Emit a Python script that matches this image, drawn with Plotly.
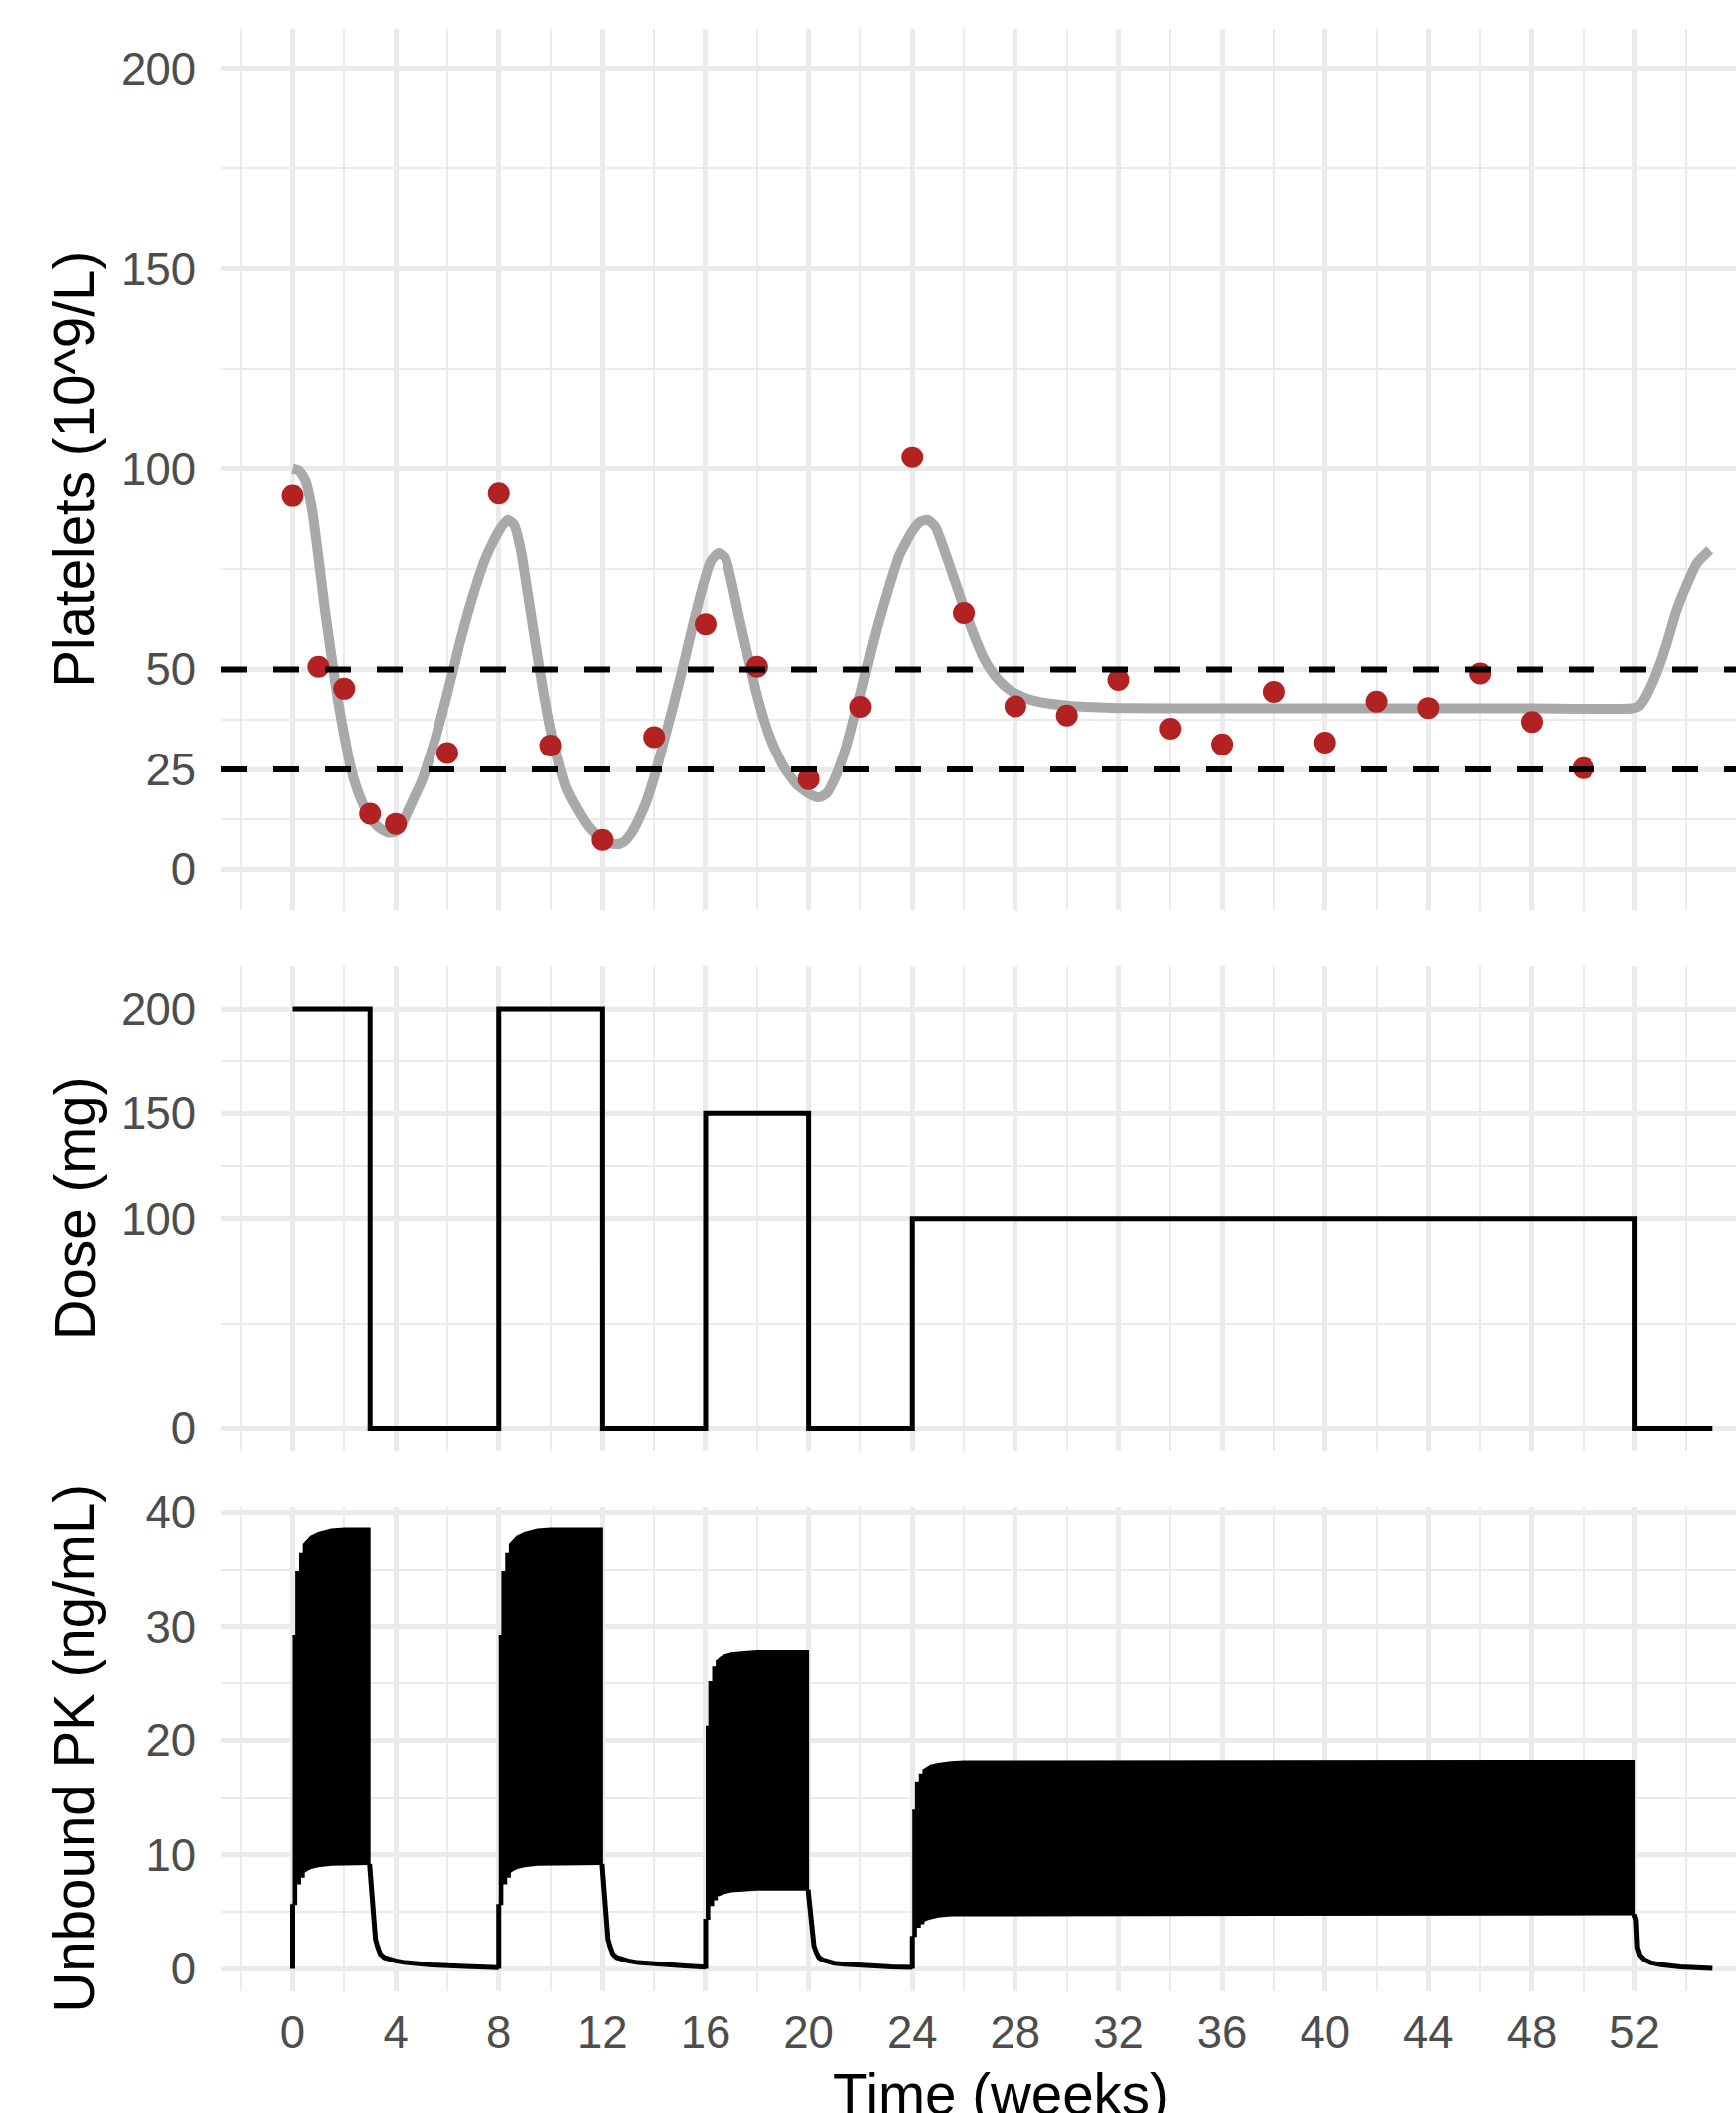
import plotly.graph_objects as go

# ---------------- data ----------------
# Platelet observations (weeks, 10^9/L)
obs_week = [0, 1, 2, 3, 4, 6, 8, 10, 12, 14, 16, 18, 20, 22, 24, 26, 28, 30, 32,
            34, 36, 38, 40, 42, 44, 46, 48, 50]
obs_platelets = [93.3, 50.7, 45.2, 13.9, 11.4, 29.1, 93.9, 31.0, 7.4, 33.1, 61.3,
                 50.7, 22.6, 40.7, 103.0, 64.1, 40.8, 38.5, 47.4, 35.2, 31.3, 44.4,
                 31.7, 42.0, 40.4, 49.0, 36.9, 25.3]

# Model-predicted platelets
model_week = [0, 0.25, 0.5, 0.75, 1.0, 1.25, 1.5, 1.75, 2.0, 2.25, 2.5, 2.75, 3.0,
              3.25, 3.5, 3.75, 4.0, 4.25, 4.5, 4.75, 5.0, 5.5, 6.0, 6.5, 7.0, 7.5,
              8.0, 8.35, 8.6, 8.85, 9.1, 9.4, 9.7, 10.0, 10.3, 10.6, 11.0, 11.5,
              12.0, 12.5, 12.8, 13.1, 13.4, 13.7, 14.0, 14.5, 15.0, 15.5, 15.9,
              16.2, 16.5, 16.75, 17.0, 17.3, 17.6, 18.0, 18.5, 19.0, 19.5, 20.0,
              20.4, 20.7, 21.0, 21.4, 22.0, 22.5, 23.0, 23.5, 24.0, 24.3, 24.6,
              24.9, 25.2, 25.6, 26.0, 26.4, 26.8, 27.2, 27.6, 28.0, 28.5, 29.0,
              30.0, 31.0, 32.0, 36.0, 40.0, 44.0, 48.0, 51.9, 52.15, 52.4, 52.7,
              53.0, 53.3, 53.6, 54.0, 54.4, 54.9]
model_platelets = [100, 99.5, 97, 90, 78, 65, 53.5, 42.5, 33.5, 25.5, 20, 16, 13,
                   11, 9.8, 9.2, 9.5, 11.5, 15, 18.5, 22, 32, 44, 57, 68.5, 78,
                   84.5, 87.3, 86, 80, 70, 57.5, 45.5, 35, 27, 20.5, 15.5, 10.5,
                   7.3, 6.3, 6.8, 8.9, 12.5, 17, 23, 35, 47.5, 61, 71,
                   77, 79, 78, 72, 63, 54.5, 43.5, 33, 26, 21.5, 19,
                   18, 19, 22.5, 29.5, 44, 57, 68.5, 78.5, 84.5, 86.8, 87.3,
                   85.5, 80.5, 73, 65.5, 58.5, 52.5, 48.5, 45.8, 44, 42.6, 41.8,
                   41, 40.6, 40.4, 40.3, 40.3, 40.3, 40.3, 40.3, 40.8, 43, 47,
                   52, 58, 64.5, 71, 76.5, 79.8]

threshold_levels = [25, 50]

# Dose schedule (step function)
dose_week = [0, 3, 8, 12, 16, 20, 24, 52, 55]
dose_mg = [200, 0, 200, 0, 150, 0, 100, 0, 0]

# Unbound PK: daily dosing blocks shown as peak/trough envelopes
pk_block_start = [0, 8, 16, 24]
pk_block_end = [2.98, 11.98, 19.98, 51.98]
pk_day_offset = [0, 0.14, 0.14, 0.29, 0.29, 0.43, 0.43, 0.57, 0.71, 1.0, 1.5, 2.0]
pk_peak_A = [29.2, 29.2, 34.8, 34.8, 36.4, 36.4, 37.2, 37.6, 37.9, 38.2, 38.5, 38.6, 38.6]
pk_trough_A = [5.7, 5.7, 7.5, 7.5, 8.1, 8.1, 8.5, 8.7, 8.85, 9.0, 9.15, 9.2, 9.2]
pk_peak_B = [29.2, 29.2, 34.8, 34.8, 36.4, 36.4, 37.2, 37.6, 37.9, 38.2, 38.5, 38.6, 38.6]
pk_trough_B = [5.7, 5.7, 7.5, 7.5, 8.1, 8.1, 8.5, 8.7, 8.85, 9.0, 9.15, 9.2, 9.2]
pk_peak_C = [21.2, 21.2, 25.1, 25.1, 26.4, 26.4, 27.0, 27.3, 27.5, 27.7, 27.8, 27.9, 27.9]
pk_trough_C = [4.4, 4.4, 5.6, 5.6, 6.1, 6.1, 6.4, 6.55, 6.65, 6.8, 6.9, 6.95, 6.95]
pk_peak_D = [13.9, 13.9, 16.3, 16.3, 17.0, 17.0, 17.4, 17.6, 17.8, 17.95, 18.1, 18.15, 18.2]
pk_trough_D = [2.9, 2.9, 3.7, 3.7, 4.0, 4.0, 4.2, 4.35, 4.45, 4.6, 4.7, 4.75, 4.8]

# Washout after each block
decay_A_t = [2.98, 3.02, 3.08, 3.15, 3.21, 3.30, 3.40, 3.55, 3.72, 4.0, 4.37, 5.4, 6.7, 8.0]
decay_A_v = [9.2, 8.0, 5.2, 3.6, 2.6, 1.9, 1.3, 1.0, 0.85, 0.7, 0.55, 0.35, 0.22, 0.1]
decay_B_t = [11.98, 12.02, 12.08, 12.15, 12.21, 12.30, 12.40, 12.55, 12.72, 13.0, 13.37, 14.4, 15.2, 16.0]
decay_B_v = [9.2, 8.0, 5.2, 3.6, 2.6, 1.9, 1.3, 1.0, 0.85, 0.7, 0.55, 0.35, 0.25, 0.15]
decay_C_t = [19.98, 20.02, 20.08, 20.15, 20.21, 20.30, 20.40, 20.55, 20.72, 21.0, 21.4, 22.4, 23.2, 24.0]
decay_C_v = [6.95, 6.0, 4.0, 2.8, 2.0, 1.45, 1.0, 0.78, 0.65, 0.5, 0.4, 0.25, 0.17, 0.12]
decay_D_t = [51.98, 52.05, 52.1, 52.2, 52.37, 52.6, 53.0, 53.77, 55.0]
decay_D_v = [4.8, 4.3, 1.9, 1.2, 0.8, 0.55, 0.37, 0.17, 0.03]

x_ticks = [0, 4, 8, 12, 16, 20, 24, 28, 32, 36, 40, 44, 48, 52]

# ---------------- figure ----------------
FONT = "Liberation Sans, Arial, sans-serif"
GRID = "#EBEBEB"
W, H = 1742, 2120
ML = 222
TICK_SIZE = 45.5
TITLE_SIZE = 56.5

fig = go.Figure()

# Platelets panel
fig.add_trace(go.Scatter(x=model_week, y=model_platelets, mode="lines",
                         line=dict(color="#A9A9A9", width=10, shape="spline", smoothing=0.6),
                         xaxis="x2", yaxis="y", hoverinfo="skip"))
fig.add_trace(go.Scatter(x=obs_week, y=obs_platelets, mode="markers",
                         marker=dict(color="#B22222", size=22, line=dict(width=0)),
                         xaxis="x2", yaxis="y"))

# Dose panel
fig.add_trace(go.Scatter(x=dose_week, y=dose_mg, mode="lines",
                         line=dict(color="black", width=5, shape="hv"),
                         xaxis="x3", yaxis="y2"))

# PK panel
blocks = [(pk_peak_A, pk_trough_A, decay_A_t, decay_A_v),
          (pk_peak_B, pk_trough_B, decay_B_t, decay_B_v),
          (pk_peak_C, pk_trough_C, decay_C_t, decay_C_v),
          (pk_peak_D, pk_trough_D, decay_D_t, decay_D_v)]
for (peak, trough, dt, dv), s, e in zip(blocks, pk_block_start, pk_block_end):
    t = [s + o for o in pk_day_offset] + [e]
    fig.add_trace(go.Scatter(x=t + t[::-1], y=peak + trough[::-1], mode="lines",
                             fill="toself", fillcolor="black",
                             line=dict(color="black", width=2),
                             xaxis="x", yaxis="y3", hoverinfo="skip"))
    fig.add_trace(go.Scatter(x=[s, s] + [None] + dt, y=[0, trough[0]] + [None] + dv,
                             mode="lines", line=dict(color="black", width=5),
                             xaxis="x", yaxis="y3", hoverinfo="skip"))

# threshold dashed lines (drawn above data)
for lv in threshold_levels:
    fig.add_shape(type="line", xref="x2 domain", yref="y", x0=0, x1=1, y0=lv, y1=lv,
                  line=dict(color="black", width=6, dash="26px,26px"), layer="above")

dom_plt = [(H - 912.6) / H, (H - 28.8) / H]
dom_dose = [(H - 1455.6) / H, (H - 968.8) / H]
dom_pk = [(H - 1997.5) / H, (H - 1511.7) / H]

xr = [-2.76, 55.914]
xcommon = dict(range=xr, tickmode="array", tickvals=x_ticks, showgrid=True,
               gridcolor=GRID, gridwidth=4.5, zeroline=False, showline=False, ticks="",
               minor=dict(dtick=2, tick0=0, showgrid=True, gridcolor=GRID, gridwidth=2.3),
               tickfont=dict(family=FONT, size=TICK_SIZE, color="#4D4D4D"), domain=[0, 1])
ycommon = dict(showgrid=True, gridcolor=GRID, gridwidth=4.5, zeroline=False,
               showline=False, ticks="", ticklabelstandoff=24,
               tickfont=dict(family=FONT, size=TICK_SIZE, color="#4D4D4D"))

fig.update_layout(
    width=W, height=H,
    margin=dict(l=ML, r=0, t=0, b=0, autoexpand=False),
    paper_bgcolor="white", plot_bgcolor="white",
    showlegend=False,
    font=dict(family=FONT),
    xaxis=dict(**xcommon, anchor="y3", showticklabels=True, ticklabelstandoff=11),
    xaxis2=dict(**xcommon, anchor="y", showticklabels=False, matches="x"),
    xaxis3=dict(**xcommon, anchor="y2", showticklabels=False, matches="x"),
    yaxis=dict(**ycommon, domain=dom_plt, range=[-10, 210], anchor="x2",
               tickmode="array", tickvals=[0, 25, 50, 100, 150, 200],
               minor=dict(tickvals=[12.5, 37.5, 75, 125, 175], showgrid=True,
                          gridcolor=GRID, gridwidth=2.3)),
    yaxis2=dict(**ycommon, domain=dom_dose, range=[-10.5, 220.5], anchor="x3",
                tickmode="array", tickvals=[0, 100, 150, 200],
                minor=dict(tickvals=[50, 125, 175], showgrid=True,
                           gridcolor=GRID, gridwidth=2.3)),
    yaxis3=dict(**ycommon, domain=dom_pk, range=[-1.93, 40.5], anchor="x",
                tickmode="array", tickvals=[0, 10, 20, 30, 40],
                minor=dict(tickvals=[5, 15, 25, 35], showgrid=True,
                           gridcolor=GRID, gridwidth=2.3)),
)

title_font = dict(family=FONT, size=TITLE_SIZE, color="black")
for text, dom in [("Platelets (10^9/L)", dom_plt), ("Dose (mg)", dom_dose),
                  ("Unbound PK (ng/mL)", dom_pk)]:
    fig.add_annotation(text=text, xref="paper", yref="paper", x=0, y=(dom[0] + dom[1]) / 2,
                       xanchor="center", yanchor="middle", xshift=75 - ML,
                       textangle=-90, showarrow=False, font=title_font)

fig.add_annotation(text="Time (weeks)", xref="paper", yref="paper",
                   x=(1004 - ML) / (W - ML), y=0, xanchor="center", yanchor="bottom",
                   yshift=-15, showarrow=False, font=title_font)

fig.write_html("out.html",
               config={"displayModeBar": False},
               post_script="document.documentElement.style.margin='0';"
                           "document.body.style.margin='0';"
                           "document.body.style.overflow='hidden';")
